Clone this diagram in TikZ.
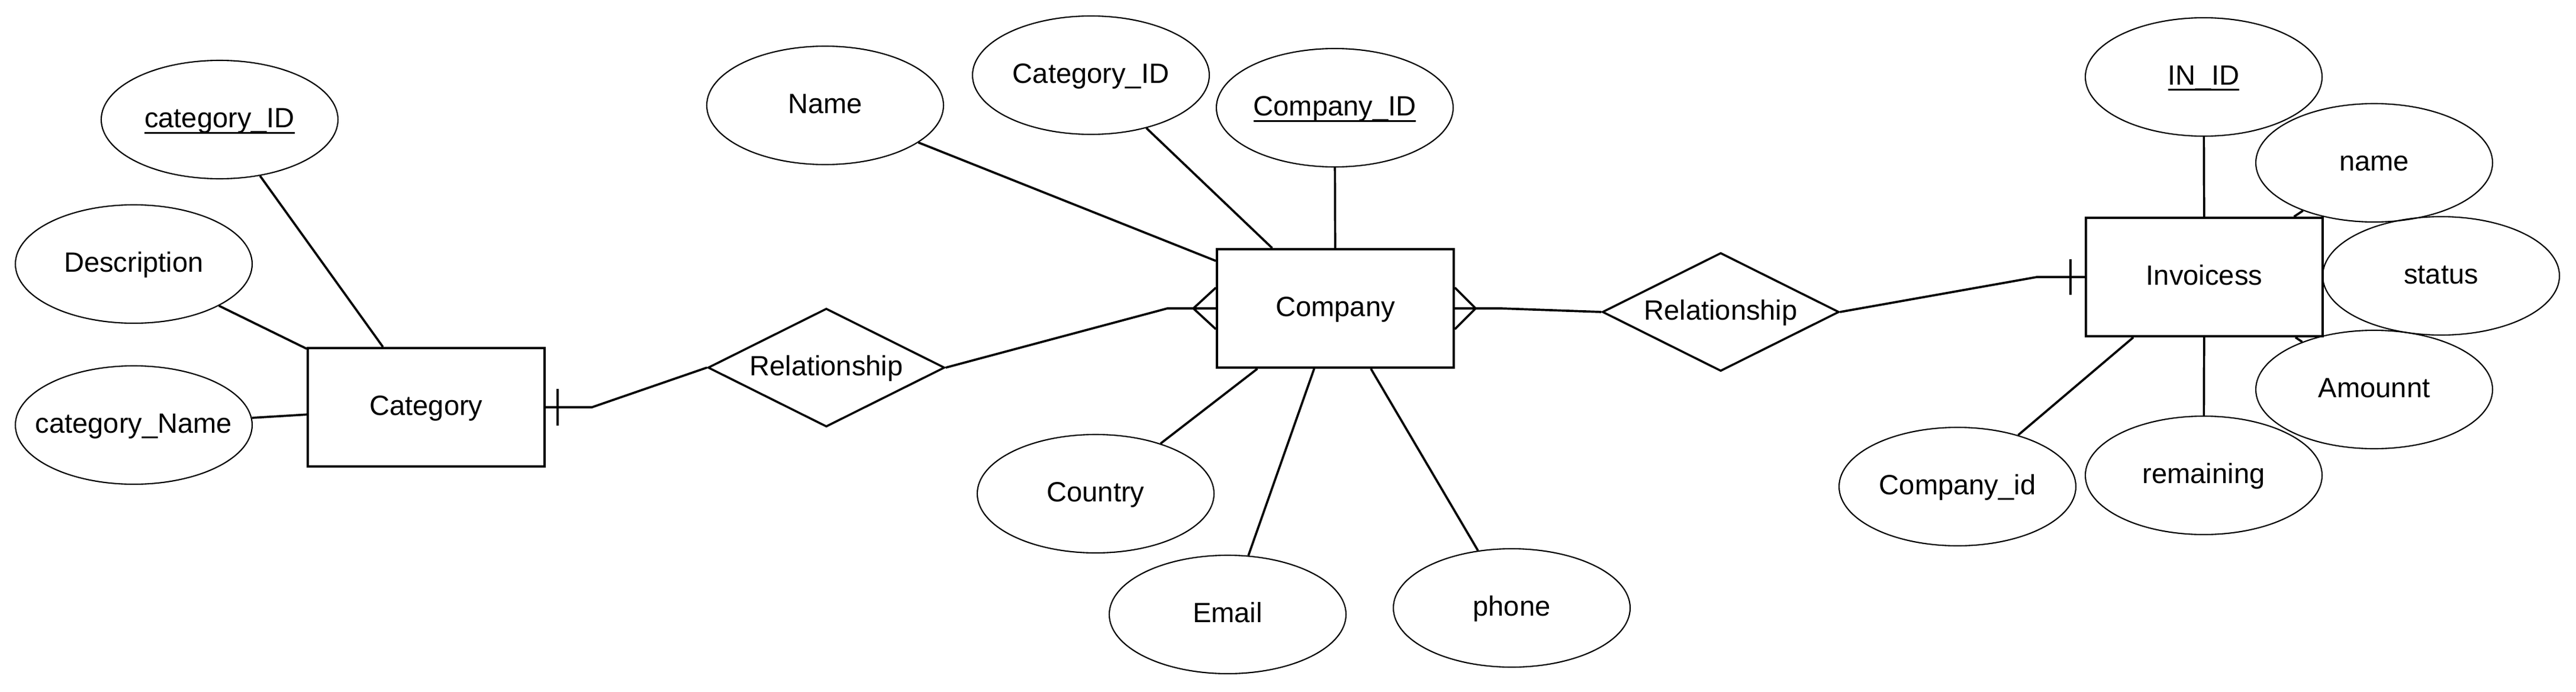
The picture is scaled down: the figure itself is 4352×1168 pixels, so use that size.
\documentclass[tikz,border=0pt]{standalone}
\usepackage{fontspec}
\setmainfont{Liberation Sans}
\usetikzlibrary{shapes.geometric}
\newcommand{\pkey}[1]{\setbox0\hbox{#1}\rlap{\rule[-1.05mm]{\wd0}{0.3mm}}\box0}

\begin{document}
\begin{tikzpicture}[x=0.1mm, y=-0.1mm,
    erfont/.style={font=\fontsize{13.4pt}{16pt}\selectfont, text height=2.6mm, text depth=0pt},
    entity/.style={rectangle, draw, line width=1.1pt, minimum width=40mm, minimum height=20mm, inner sep=0pt, erfont},
    attr/.style={ellipse, draw, line width=0.6pt, minimum width=40mm, minimum height=20mm, inner sep=0pt, erfont},
    relation/.style={diamond, draw, line width=1pt, minimum width=40mm, minimum height=20mm, inner sep=0pt, aspect=2, erfont},
    link/.style={line width=1.05pt}]

    % Canvas
    \path[fill=white, use as bounding box] (0,0) rectangle (4352,1168);

    % Category entity and attributes
    \node[entity] (cat) at (720,688) {Category};
    \node[attr] (catid) at (371,202) {\pkey{category\_ID}};
    \node[attr] (catdesc) at (226,446) {Description};
    \node[attr] (catname) at (226,718) {\makebox[0pt]{category\_Name}};

    % Relationships
    \node[relation] (rel1) at (1396,621) {Relationship};
    \node[relation] (rel2) at (2907,527) {Relationship};

    % Company entity and attributes
    \node[entity] (comp) at (2256,521) {Company};
    \node[attr] (compname) at (1394,178) {Name};
    \node[attr] (compcat) at (1843,127) {Category\_ID};
    \node[attr] (compid) at (2255,182) {\pkey{Company\_ID}};
    \node[attr] (country) at (1851,834) {Country};
    \node[attr] (email) at (2074,1038) {Email};
    \node[attr] (phone) at (2554,1027) {phone};

    % Invoicess entity and attributes
    \node[entity] (inv) at (3724,468) {Invoicess};
    \node[attr] (inid) at (3723,130) {\pkey{IN\_ID}};
    \node[attr] (invname) at (4011,275) {name};
    \node[attr] (status) at (4124,466) {status};
    \node[attr] (amount) at (4011,658) {Amounnt};
    \node[attr] (remaining) at (3723,803) {remaining};
    \node[attr] (invcomp) at (3307,822) {Company\_id};

    % Attribute links
    \draw[link] (catid) -- (cat);
    \draw[link] (catdesc) -- (cat);
    \draw[link] (catname) -- (cat);
    \draw[link] (compname) -- (comp);
    \draw[link] (compcat) -- (comp);
    \draw[link] (compid) -- (comp);
    \draw[link] (country) -- (comp);
    \draw[link] (email) -- (comp);
    \draw[link] (phone) -- (comp);
    \draw[link] (inid) -- (inv);
    \draw[link] (invname) -- (inv);
    \draw[link] (amount) -- (inv);
    \draw[link] (remaining) -- (inv);
    \draw[link] (invcomp) -- (inv);

    % Relationship links
    \draw[link] (cat.east) -- ++(78,0) -- (rel1.west);
    \draw[link] (rel1.east) -- ([xshift=-8.2mm]comp.west) -- (comp.west);
    \draw[link] (comp.east) -- ++(78,0) -- (rel2.west);
    \draw[link] (rel2.east) -- ([xshift=-8.1mm]inv.west) -- (inv.west);

    % Cardinality marks
    \draw[link] ([shift={(20,-31)}]cat.east) -- ([shift={(20,31)}]cat.east);
    \draw[link] ([shift={(0,-35)}]comp.west) -- ([shift={(-38,0)}]comp.west) -- ([shift={(0,35)}]comp.west);
    \draw[link] ([shift={(0,-35)}]comp.east) -- ([shift={(35,0)}]comp.east) -- ([shift={(0,35)}]comp.east);
    \draw[link] ([shift={(-24,-30)}]inv.west) -- ([shift={(-24,30)}]inv.west);

\end{tikzpicture}
\end{document}
